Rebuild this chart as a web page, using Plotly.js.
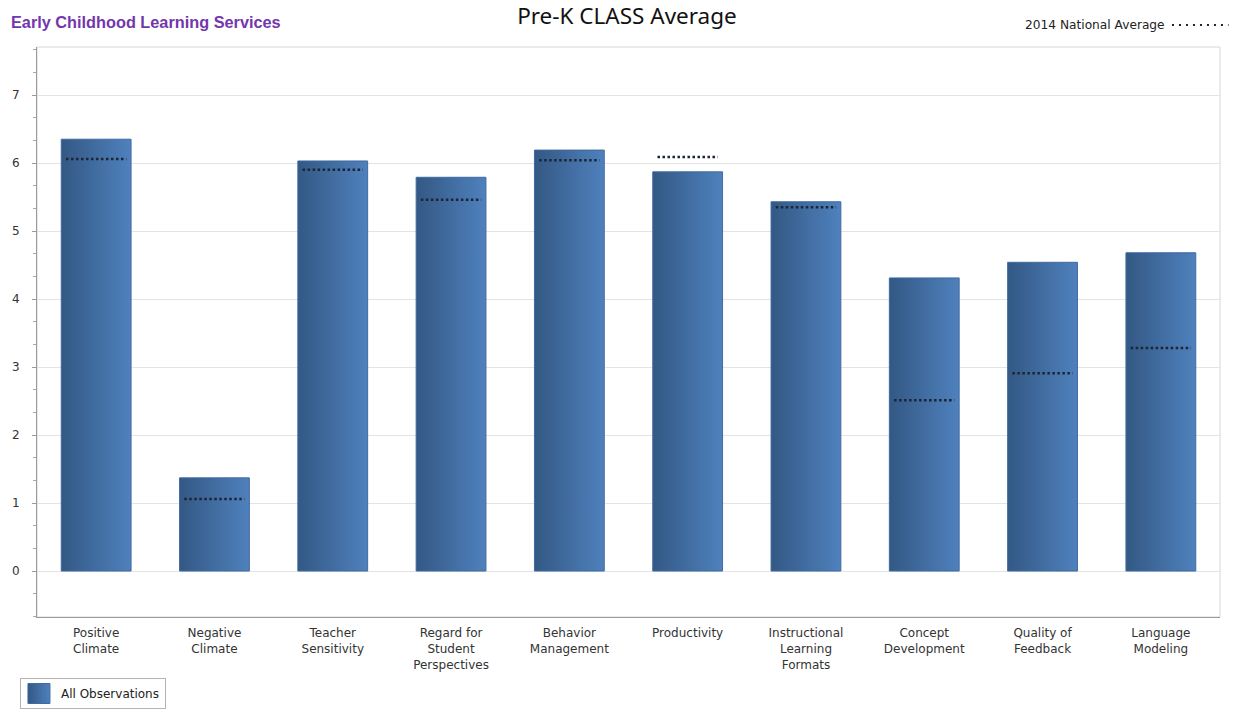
<!DOCTYPE html>
<html>
<head>
<meta charset="utf-8">
<script src="https://cdn.plot.ly/plotly-3.0.1.min.js"></script>
<style>
  html, body { margin: 0; padding: 0; background: #fff; }
  #chart { width: 1238px; height: 709px; }
</style>
</head>
<body>
<div id="chart"></div>
<script>
// CLASS domains shown along the x axis
const categories = [
  "Positive Climate", "Negative Climate", "Teacher Sensitivity",
  "Regard for Student Perspectives", "Behavior Management", "Productivity",
  "Instructional Learning Formats", "Concept Development",
  "Quality of Feedback", "Language Modeling"
];
const tickLabels = [
  "Positive<br>Climate", "Negative<br>Climate", "Teacher<br>Sensitivity",
  "Regard for<br>Student<br>Perspectives", "Behavior<br>Management", "Productivity",
  "Instructional<br>Learning<br>Formats", "Concept<br>Development",
  "Quality of<br>Feedback", "Language<br>Modeling"
];
// Program scores (all observations)
const allObservations = [6.35, 1.37, 6.03, 5.79, 6.19, 5.87, 5.43, 4.31, 4.54, 4.68];
// 2014 national averages
const nationalAverage = [6.06, 1.06, 5.90, 5.46, 6.04, 6.09, 5.35, 2.51, 2.91, 3.28];

const positions = categories.map((_, i) => i);
const halfSpan = 0.255;

// Build one dotted segment per category, separated by gaps
const avgX = [], avgY = [];
nationalAverage.forEach((v, i) => {
  avgX.push(i - halfSpan, i + halfSpan, null);
  avgY.push(v, v, null);
});

const font = "DejaVu Sans, Verdana, sans-serif";

const traces = [
  {
    type: "bar",
    name: "All Observations",
    x: positions,
    y: allObservations,
    hovertext: categories,
    hoverinfo: "text+y",
    textposition: "none",
    width: 0.59,
    marker: { color: "#4371a8", line: { color: "#3f6aa0", width: 1 } },
    showlegend: true
  },
  {
    type: "scatter",
    mode: "lines",
    name: "2014 National Average",
    x: avgX,
    y: avgY,
    line: { color: "#1c2535", width: 2.5, dash: "2.5px,2.5px" },
    showlegend: false,
    hoverinfo: "y"
  }
];

const layout = {
  width: 1238,
  height: 709,
  paper_bgcolor: "#ffffff",
  plot_bgcolor: "#ffffff",
  margin: { l: 37, r: 18, t: 47, b: 92, autoexpand: false },
  font: { family: font, size: 12, color: "#333333" },
  title: {
    text: "Pre-K CLASS Average",
    font: { family: "Noto Sans, Open Sans, sans-serif", size: 22.5, color: "#111111" },
    x: 0.4987, xref: "paper", xanchor: "center",
    y: 0.977, yref: "container", yanchor: "middle"
  },
  xaxis: {
    type: "linear",
    range: [-0.5, 9.5],
    tickmode: "array",
    tickvals: positions,
    ticktext: tickLabels,
    showgrid: false,
    zeroline: false,
    showline: true,
    linecolor: "#9a9a9a",
    linewidth: 1,
    ticks: "",
    tickfont: { family: font, size: 12, color: "#333333" },
    ticklabelstandoff: 5,
    fixedrange: true
  },
  yaxis: {
    range: [-0.676, 7.706],
    tickmode: "linear",
    tick0: 0,
    dtick: 1,
    showgrid: true,
    gridcolor: "#e3e3e3",
    gridwidth: 1,
    zeroline: false,
    showline: true,
    linecolor: "#9a9a9a",
    linewidth: 1,
    ticks: "outside",
    ticklen: 4,
    tickcolor: "#9a9a9a",
    tickfont: { family: font, size: 12, color: "#333333" },
    ticklabelstandoff: 10,
    minor: { tick0: 0, dtick: 1 / 3, ticks: "outside", ticklen: 3, tickcolor: "#a8a8a8", showgrid: false },
    fixedrange: true
  },
  shapes: [
    {
      type: "rect", xref: "paper", yref: "paper",
      x0: 0, x1: 1, y0: 0, y1: 1,
      line: { color: "#d6d6d6", width: 1 },
      layer: "below"
    },
    // key for the dotted national-average marks
    {
      type: "line", xref: "paper", yref: "paper",
      x0: 0.9594, x1: 1.0072, y0: 1.0386, y1: 1.0386,
      line: { color: "#1c2535", width: 2, dash: "2px,5px" }
    }
  ],
  annotations: [
    {
      text: "<b>Early Childhood Learning Services</b>",
      xref: "paper", yref: "paper",
      x: -0.0236, y: 1.0632, xanchor: "left", yanchor: "top",
      showarrow: false,
      font: { family: "Liberation Sans, Arial, sans-serif", size: 16.3, color: "#7436ad" }
    },
    {
      text: "2014 National Average",
      xref: "paper", yref: "paper",
      x: 0.9556, y: 1.0386, xanchor: "right", yanchor: "middle",
      showarrow: false,
      font: { family: "DejaVu Sans, sans-serif", size: 12.2, color: "#222222" }
    }
  ],
  legend: {
    x: -0.0144, y: -0.107, xanchor: "left", yanchor: "top",
    orientation: "h",
    bgcolor: "#ffffff",
    bordercolor: "#b4b4b4",
    borderwidth: 1,
    font: { family: font, size: 12, color: "#222222" },
    itemwidth: 30
  },
  hovermode: "closest",
  bargap: 0.41
};

Plotly.newPlot("chart", traces, layout, { displayModeBar: false }).then(gd => {
  // Horizontal shading on the bars and the legend swatch
  const svgNS = "http://www.w3.org/2000/svg";
  const defs = gd.querySelector("svg.main-svg defs");
  const grad = document.createElementNS(svgNS, "linearGradient");
  grad.setAttribute("id", "barShade");
  grad.setAttribute("x1", "0"); grad.setAttribute("y1", "0");
  grad.setAttribute("x2", "1"); grad.setAttribute("y2", "0");
  [["0%", "#335884"], ["100%", "#4f81bd"]].forEach(([off, col]) => {
    const s = document.createElementNS(svgNS, "stop");
    s.setAttribute("offset", off);
    s.setAttribute("stop-color", col);
    grad.appendChild(s);
  });
  defs.appendChild(grad);
  gd.querySelectorAll(".barlayer .point path").forEach(p => {
    p.style.fill = "url(#barShade)";
  });
  gd.querySelectorAll(".legend .legendpoints path").forEach(p => {
    p.setAttribute("d", "M-13,-10h22v20h-22Z");
    p.style.fill = "url(#barShade)";
    p.style.stroke = "#3f6aa0";
    p.style.strokeWidth = "1px";
  });
});
</script>
</body>
</html>
